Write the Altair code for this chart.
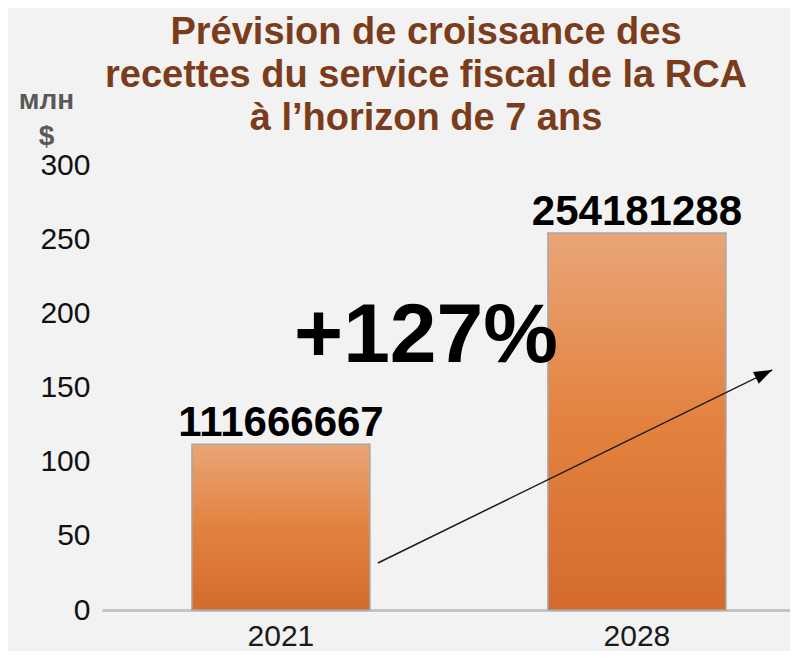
import altair as alt
import pandas as pd

# ---- data ----
years = ["2021", "2028"]
values = [111.666667, 254.181288]          # millions of $
labels = ["111666667", "254181288"]
y_ticks = [0, 50, 100, 150, 200, 250, 300]

title_lines = ["Prévision de croissance des",
               "recettes du service fiscal de la RCA",
               "à l’horizon de 7 ans"]
y_title = ["млн", "$"]

# annotation (arrow + growth text) in data units: x as fraction of plot width, y in millions
arrow_x = [0.401, 0.974]
arrow_y = [31.7, 161.8]
growth_text = ["+127%"]
growth_x = [0.471]
growth_y = [167.2]

bars_df = pd.DataFrame({"year": years, "value": values, "label": labels})
arrow_df = pd.DataFrame({"x": arrow_x, "value": arrow_y, "order": [0, 1]})
head_df = pd.DataFrame({"x": [arrow_x[1]], "value": [arrow_y[1]]})
growth_df = pd.DataFrame({"x": growth_x, "value": growth_y, "t": growth_text})

FONT = "Liberation Sans"

gradient = alt.LinearGradient(
    gradient="linear",
    stops=[alt.GradientStop(offset=0, color="#e9a577"),
           alt.GradientStop(offset=0.5, color="#e3823f"),
           alt.GradientStop(offset=1, color="#d46b2d")],
    x1=0, x2=0, y1=0, y2=1)

x_band = alt.X("year:N", sort=years,
               scale=alt.Scale(paddingInner=0.5, paddingOuter=0.2163, align=0.584),
               axis=alt.Axis(title=None, labelAngle=0, labelFont=FONT, labelFontSize=30,
                             labelColor="#1a1a1a", labelPadding=11, ticks=False,
                             domainColor="#c4c4c4", domainWidth=3))
y_enc = alt.Y("value:Q", scale=alt.Scale(domain=[0, 300]),
              axis=alt.Axis(values=y_ticks, title=y_title, titleAngle=0,
                            titleX=-56, titleY=-57, titleAlign="center",
                            titleBaseline="alphabetic", titleFont=FONT, titleFontSize=28,
                            titleFontWeight="bold", titleColor="#595959", titleLineHeight=36,
                            labelFont=FONT, labelFontSize=30, labelColor="#111111",
                            labelPadding=12, ticks=False, domain=False, grid=False))

bars = alt.Chart(bars_df).mark_bar(color=gradient, stroke="#a6a6a6", strokeWidth=1.5).encode(
    x=x_band, y=y_enc)
bar_labels = alt.Chart(bars_df).mark_text(dy=-8, baseline="alphabetic", fontSize=42,
                                          fontWeight="bold", font=FONT, color="black").encode(
    x=alt.X("year:N", sort=years), y=alt.Y("value:Q"), text="label:N")

x_frac = alt.X("x:Q", scale=alt.Scale(domain=[0, 1]), axis=None)
arrow_line = alt.Chart(arrow_df).mark_line(color="#1a1a1a", strokeWidth=1.5).encode(
    x=x_frac, y=alt.Y("value:Q"), order="order:Q")
arrow_head = alt.Chart(head_df).mark_point(shape="M0,0L-0.36,1L0.36,1Z", size=1296, angle=64.1,
                                           filled=True, color="black", opacity=1,
                                           strokeWidth=0).encode(
    x=x_frac, y=alt.Y("value:Q"))
growth = alt.Chart(growth_df).mark_text(fontSize=84, fontWeight="bold", font=FONT,
                                        baseline="alphabetic", align="center",
                                        color="black").encode(
    x=x_frac, y=alt.Y("value:Q"), text="t:N")

base = alt.layer(bars, bar_labels)
over = alt.layer(arrow_line, arrow_head, growth)

chart = alt.layer(base, over).resolve_scale(x="independent").properties(
    width=688, height=445,
    autosize="none",
    padding={"left": 94, "top": 157, "right": 0, "bottom": 41},
    title=alt.TitleParams(title_lines, font=FONT, fontSize=38, fontWeight="bold",
                          color="#7b3c1c", lineHeight=43, anchor="middle", dx=-20,
                          dy=81, offset=29, frame="group"),
).configure(background="#f2f2f2").configure_view(stroke=None)

chart.save("out.html", embed_options={"renderer": "svg", "actions": False})
